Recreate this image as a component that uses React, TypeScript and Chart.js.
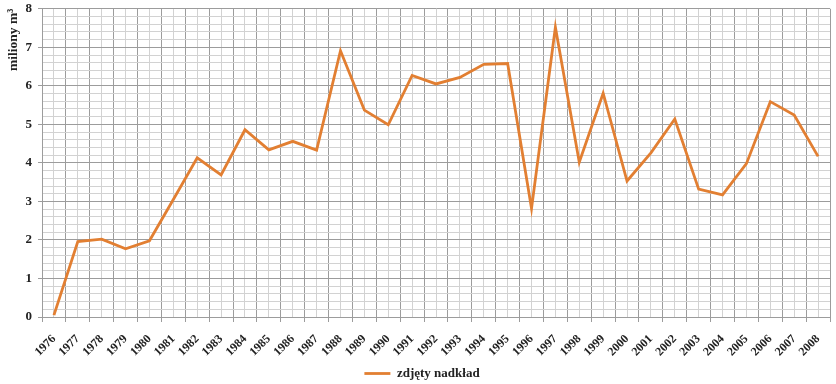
import React, { useEffect, useRef } from "react";
import { Chart, registerables } from "chart.js";

Chart.register(...registerables);

const years: string[] = [
  "1976", "1977", "1978", "1979", "1980", "1981", "1982", "1983", "1984", "1985",
  "1986", "1987", "1988", "1989", "1990", "1991", "1992", "1993", "1994", "1995",
  "1996", "1997", "1998", "1999", "2000", "2001", "2002", "2003", "2004", "2005",
  "2006", "2007", "2008",
];

const overburden: number[] = [
  0.05, 1.96, 2.02, 1.77, 1.98, 3.05, 4.13, 3.69, 4.86, 4.34,
  4.56, 4.33, 6.91, 5.37, 4.99, 6.27, 6.05, 6.22, 6.56, 6.58,
  2.82, 7.52, 4.02, 5.81, 3.53, 4.26, 5.14, 3.32, 3.17, 3.98,
  5.59, 5.24, 4.17,
];

const seriesLabel = "zdjęty nadkład";
const yTitle = "miliony m³";
const yMin = 0;
const yMax = 8;
const yMinorStep = 0.2;

const FONT = "'Liberation Serif', 'Times New Roman', serif";
const ORANGE = "#e27f32";
const DARK = "#9c9c9c";
const LIGHT = "#d2d2d2";

const isMajor = (v: number) => Math.abs(v - Math.round(v)) < 1e-6;

export default function App() {
  const ref = useRef<HTMLCanvasElement | null>(null);

  useEffect(() => {
    if (!ref.current) return;
    const chart = new Chart(ref.current, {
      type: "line",
      data: {
        labels: years,
        datasets: [
          {
            label: seriesLabel,
            data: overburden,
            borderColor: ORANGE,
            backgroundColor: ORANGE,
            borderWidth: 2.8,
            pointRadius: 0,
            pointHoverRadius: 0,
            pointStyle: "line",
            tension: 0,
            xAxisID: "x",
            yAxisID: "y",
          },
        ],
      },
      options: {
        animation: false,
        responsive: true,
        maintainAspectRatio: false,
        layout: { padding: { left: 14, right: 6, top: 0, bottom: 0 } },
        plugins: {
          tooltip: { enabled: false },
          legend: {
            position: "bottom",
            labels: {
              usePointStyle: true,
              pointStyleWidth: 26,
              color: "#222",
              font: { family: FONT, size: 13, weight: "bold" },
              padding: 0,
            },
          },
        },
        scales: {
          x: {
            type: "category",
            position: "bottom",
            offset: true,
            afterFit: (s: any) => {
              s.height = 50;
              s.paddingRight = 0;
              s.paddingLeft = 0;
            },
            grid: {
              offset: true,
              color: DARK,
              lineWidth: 1,
              drawTicks: true,
              tickLength: 5,
            },
            border: { color: DARK },
            ticks: {
              autoSkip: false,
              minRotation: 45,
              maxRotation: 45,
              color: "#222",
              padding: 10,
              font: { family: FONT, size: 12, weight: "bold" },
            },
          },
          x2: {
            type: "category",
            position: "top",
            labels: years,
            offset: true,
            afterFit: (s: any) => {
              s.height = 0;
              s.paddingRight = 0;
              s.paddingLeft = 0;
            },
            grid: {
              offset: false,
              color: LIGHT,
              lineWidth: 1,
              drawTicks: false,
            },
            border: { display: false },
            ticks: { display: false },
          },
          y: {
            type: "linear",
            min: yMin,
            max: yMax,
            afterFit: (s: any) => {
              s.width = 28;
            },
            grid: {
              color: (ctx: any) => (isMajor(ctx.tick?.value ?? 0) ? DARK : LIGHT),
              tickColor: (ctx: any) => (isMajor(ctx.tick?.value ?? 0) ? DARK : "rgba(0,0,0,0)"),
              tickLength: 4,
              lineWidth: 1,
            },
            border: { color: DARK },
            ticks: {
              stepSize: yMinorStep,
              autoSkip: false,
              color: "#222",
              padding: 6,
              font: { family: FONT, size: 13, weight: "bold" },
              callback: (v: any) => (isMajor(Number(v)) ? String(Math.round(Number(v))) : ""),
            },
            title: {
              display: true,
              text: yTitle,
              align: "end",
              color: "#222",
              padding: { top: -9, bottom: 0 },
              font: { family: FONT, size: 13.5, weight: "bold" },
            },
          },
        },
      },
    });
    return () => chart.destroy();
  }, []);

  return (
    <div style={{ position: "absolute", left: 0, top: -5, width: 836, height: 395, background: "#fff" }}>
      <canvas ref={ref} />
    </div>
  );
}
